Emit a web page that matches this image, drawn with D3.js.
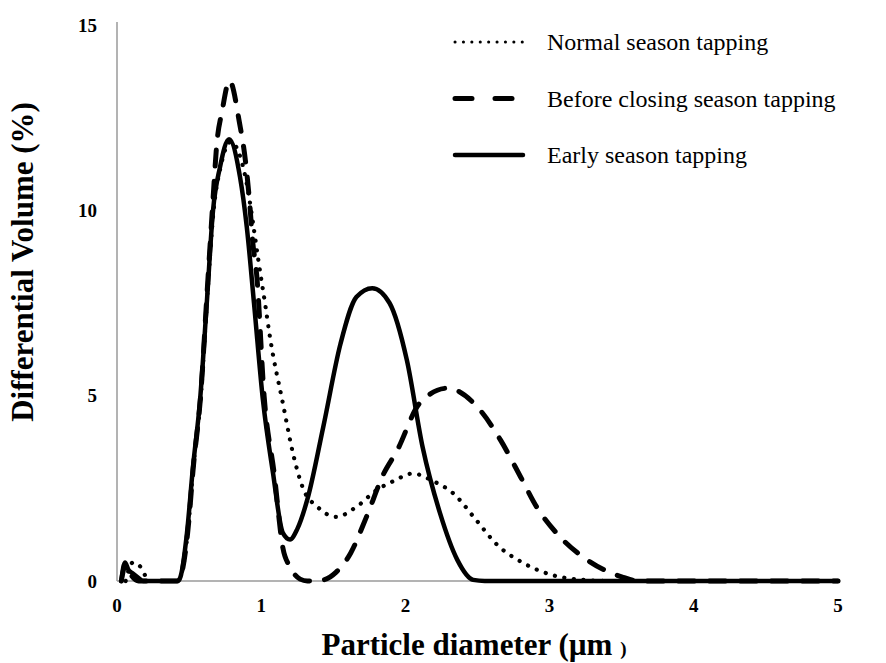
<!DOCTYPE html>
<html lang="en">
<head>
    <meta charset="UTF-8">
    <title>Particle size distribution</title>
    <script src="https://cdn.jsdelivr.net/npm/d3@7"></script>
    <style>
        body { margin: 0; background: #fff; }
        text { font-family: "Liberation Serif", "Times New Roman", serif; }
        .tick-label { font-weight: bold; font-size: 19px; }
        .axis-title { font-weight: bold; font-size: 31px; }
        .legend text { font-size: 24px; }
    </style>
</head>
<body>
    <script>
        // Series (diameter in µm, volume in %)
        var earlyX = [0.03, 0.055, 0.08, 0.11, 0.15, 0.18, 0.42, 0.44, 0.485, 0.527, 0.576, 0.624, 0.666, 0.714, 0.777, 0.853, 0.9, 0.95, 1.012, 1.082, 1.15, 1.2, 1.25, 1.32, 1.43, 1.55, 1.66, 1.77, 1.89, 2.01, 2.12, 2.24, 2.36, 2.47, 2.55, 3, 4, 5];
        var earlyY = [0, 0.5, 0.3, 0.2, 0.08, 0, 0, 0.11, 1.29, 3.08, 4.88, 7.58, 10.0, 11.16, 11.92, 10.9, 9.55, 7.5, 4.88, 2.91, 1.3, 1.12, 1.4, 2.2, 4.15, 6.4, 7.66, 7.9, 7.5, 5.96, 3.6, 1.83, 0.57, 0.03, 0, 0, 0, 0];

        var closingX = [0.03, 0.06, 0.1, 0.15, 0.42, 0.44, 0.49, 0.53, 0.58, 0.625, 0.666, 0.69, 0.73, 0.78, 0.85, 0.89, 0.92, 0.94, 0.97, 1.02, 1.09, 1.15, 1.2, 1.27, 1.32, 1.43, 1.52, 1.62, 1.73, 1.85, 1.94, 2.1, 2.29, 2.52, 2.66, 2.8, 2.91, 3.07, 3.26, 3.51, 3.62, 4, 5];
        var closingY = [0, 0.45, 0.15, 0, 0, 0.1, 1.3, 3.1, 5.0, 7.8, 10.3, 11.7, 12.7, 13.5, 12.35, 11.36, 10.2, 9.2, 8.2, 5.0, 2.9, 0.9, 0.38, 0.05, 0, 0.03, 0.24, 0.75, 1.73, 2.9, 3.5, 4.8, 5.2, 4.6, 3.8, 2.8, 2.0, 1.2, 0.57, 0.1, 0, 0, 0];

        var normalX = [0.06, 0.11, 0.17, 0.22, 0.42, 0.44, 0.49, 0.53, 0.58, 0.625, 0.67, 0.72, 0.79, 0.84, 0.91, 0.94, 0.98, 1.03, 1.06, 1.15, 1.22, 1.29, 1.39, 1.52, 1.66, 1.8, 1.92, 2.05, 2.19, 2.33, 2.49, 2.63, 2.82, 3.02, 3.23, 3.4, 4, 5];
        var normalY = [0, 0.5, 0.35, 0, 0, 0.1, 1.3, 3.1, 4.9, 7.6, 10.0, 11.2, 11.85, 11.6, 10.5, 9.74, 8.66, 7.4, 6.6, 4.8, 3.45, 2.5, 2.0, 1.73, 2.0, 2.45, 2.7, 2.9, 2.7, 2.37, 1.65, 1.0, 0.48, 0.16, 0.03, 0, 0, 0];

        var xTicks = [0, 1, 2, 3, 4, 5];
        var yTicks = [0, 5, 10, 15];
        var seriesNames = ["Normal season tapping", "Before closing season tapping", "Early season tapping"];

        var width = 886, height = 663;

        var x = d3.scaleLinear().domain([0, 5]).range([117, 838]);
        var y = d3.scaleLinear().domain([0, 15]).range([581, 25]);

        var svg = d3.select("body").append("svg")
            .attr("width", width)
            .attr("height", height);

        // axis lines (no tick marks in the original)
        svg.append("line")
            .attr("x1", x(0)).attr("x2", x(0))
            .attr("y1", y(15) - 3).attr("y2", y(0))
            .attr("stroke", "#9a9a9a").attr("stroke-width", 1.5);
        svg.append("line")
            .attr("x1", x(0)).attr("x2", x(5))
            .attr("y1", y(0)).attr("y2", y(0))
            .attr("stroke", "#9a9a9a").attr("stroke-width", 1.5);

        svg.selectAll(".ytick")
            .data(yTicks)
            .enter().append("text")
            .attr("class", "tick-label")
            .attr("x", 97)
            .attr("y", d => y(d))
            .attr("dy", "0.35em")
            .attr("text-anchor", "end")
            .text(d => d);

        svg.selectAll(".xtick")
            .data(xTicks)
            .enter().append("text")
            .attr("class", "tick-label")
            .attr("x", d => x(d))
            .attr("y", 612)
            .attr("text-anchor", "middle")
            .text(d => d);

        // axis titles
        svg.append("text")
            .attr("class", "axis-title")
            .attr("transform", "translate(33,262) rotate(-90)")
            .attr("text-anchor", "middle")
            .text("Differential Volume (%)");

        var xt = svg.append("text")
            .attr("class", "axis-title")
            .attr("x", 474)
            .attr("y", 655)
            .attr("text-anchor", "middle");
        xt.append("tspan").text("Particle diameter (µm ");
        xt.append("tspan").style("font-size", "19px").text(")");

        var line = d3.line()
            .x(d => x(d[0]))
            .y(d => y(d[1]))
            .curve(d3.curveMonotoneX);

        var styles = [
            { xs: normalX, ys: normalY, dash: "0.1 9.5", w: 4.2 },
            { xs: closingX, ys: closingY, dash: "16 15", w: 5 },
            { xs: earlyX, ys: earlyY, dash: null, w: 4.5 }
        ];

        styles.forEach(function (s) {
            svg.append("path")
                .datum(d3.zip(s.xs, s.ys))
                .attr("fill", "none")
                .attr("stroke", "#000")
                .attr("stroke-width", s.w)
                .attr("stroke-linecap", "round")
                .attr("stroke-linejoin", "round")
                .attr("stroke-dasharray", s.dash)
                .attr("d", line);
        });

        // legend
        var legend = svg.append("g").attr("class", "legend");
        var legendDash = ["0.1 8.3", "17 23", null];
        var legendW = [3, 5, 4.5];
        seriesNames.forEach(function (name, i) {
            var ly = 42 + i * 56.5;
            legend.append("line")
                .attr("x1", 455).attr("x2", 523)
                .attr("y1", ly).attr("y2", ly)
                .attr("stroke", "#000")
                .attr("stroke-width", legendW[i])
                .attr("stroke-linecap", "round")
                .attr("stroke-dasharray", legendDash[i]);
            legend.append("text")
                .attr("x", 547)
                .attr("y", ly)
                .attr("dy", "0.35em")
                .text(name);
        });
    </script>
</body>
</html>
